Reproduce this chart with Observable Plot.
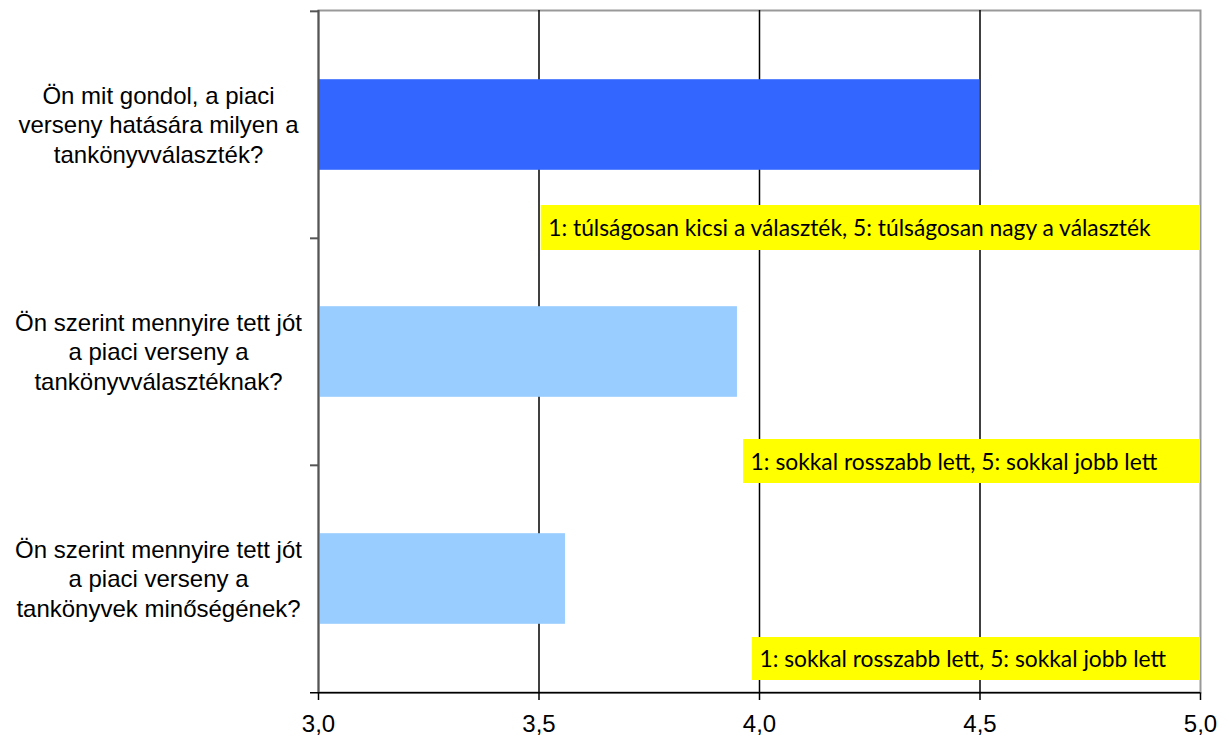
<!DOCTYPE html>
<html>
<head>
<meta charset="utf-8">
<script src="https://cdn.jsdelivr.net/npm/d3@7"></script>
<script src="https://cdn.jsdelivr.net/npm/@observablehq/plot@0.6"></script>
<style>
  html, body { margin: 0; padding: 0; background: #fff; }
</style>
</head>
<body>
<div id="chart"></div>
<script>
// ---- data ----
const questions = [
  "Ön mit gondol, a piaci\nverseny hatására milyen a\ntankönyvválaszték?",
  "Ön szerint mennyire tett jót\na piaci verseny a\ntankönyvválasztéknak?",
  "Ön szerint mennyire tett jót\na piaci verseny a\ntankönyvek minőségének?"
];
const values = [4.5, 3.95, 3.56];
const xTicks = [3.0, 3.5, 4.0, 4.5, 5.0];
const noteTexts = [
  "1: túlságosan kicsi a választék, 5: túlságosan nagy a választék",
  "1: sokkal rosszabb lett, 5: sokkal jobb lett",
  "1: sokkal rosszabb lett, 5: sokkal jobb lett"
];
const noteStarts = [3.505, 3.964, 3.984];

// ---- layout ----
const W = 1229, H = 742;
const mTop = 10, mBottom = 50, mLeft = 318, mRight = 29;
const bw = (H - mTop - mBottom) / questions.length;
const barInset = bw * 0.3;
// note box placement relative to its question band (pixels)
const noteLayout = [
  {insetTop: 194, insetBottom: -12},
  {insetTop: 201, insetBottom: -18},
  {insetTop: 172, insetBottom: 12}
];
const barColors = ["#3366FF", "#99CCFF", "#99CCFF"];

const bars = questions.map((q, i) => ({q, v: values[i], c: barColors[i]}));
const notes = questions.map((q, i) => ({q, text: noteTexts[i], start: noteStarts[i], ...noteLayout[i]}));
const lastQ = questions[questions.length - 1];

const noteMarks = notes.flatMap(n => {
  const centerOffset = (n.insetTop - n.insetBottom) / 2;
  return [
    Plot.barX([n], {x1: "start", x2: 5, y: "q", fill: "#FFFF00", insetTop: n.insetTop, insetBottom: n.insetBottom}),
    Plot.text([n], {x: "start", y: "q", text: "text", textAnchor: "start", dx: 7, dy: centerOffset + 1,
      fontFamily: "Lato, 'Open Sans', sans-serif", fontSize: "22.8px", fill: "#000"})
  ];
});

const fmt = d => d3.format(".1f")(d).replace(".", ",");

const chart = Plot.plot({
  width: W,
  height: H,
  marginTop: mTop,
  marginBottom: mBottom,
  marginLeft: mLeft,
  marginRight: mRight,
  style: {fontFamily: "'Liberation Sans', Arial, sans-serif", color: "#000", background: "#fff", overflow: "visible"},
  x: {domain: [3, 5], ticks: xTicks, tickFormat: fmt, label: null, axis: null},
  y: {domain: questions, padding: 0, axis: null},
  marks: [
    Plot.frame({stroke: "#999", strokeWidth: 2}),
    Plot.ruleX(xTicks.filter(t => t > 3 && t < 5), {stroke: "#000", strokeWidth: 1.5}),
    Plot.barX(bars, {x1: 3, x2: "v", y: "q", fill: "c", insetTop: barInset, insetBottom: barInset}),
    ...noteMarks,
    Plot.ruleX([3], {stroke: "#555", strokeWidth: 2}),
    // category boundary ticks on the left
    Plot.ruleY(questions, {y: d => d, x1: 3, x2: 3, insetLeft: -8, dy: -bw / 2, stroke: "#555", strokeWidth: 2}),
    // bottom axis line
    Plot.ruleY([lastQ], {y: d => d, x1: 3, x2: 5, insetLeft: -8, dy: bw / 2, stroke: "#000", strokeWidth: 1.5}),
    // x ticks below the axis line
    Plot.tickX(xTicks, {x: d => d, y: () => lastQ, insetTop: bw, insetBottom: -8, stroke: "#000", strokeWidth: 1.5}),
    // x tick labels
    Plot.text(xTicks, {x: d => d, text: fmt, frameAnchor: "bottom", dy: 39, fontSize: "24px", fill: "#000"}),
    // category labels
    Plot.text(questions, {y: d => d, frameAnchor: "left", dx: -160, dy: -1, textAnchor: "middle", lineHeight: 1.22, fontSize: "24px", fill: "#000"})
  ]
});
document.getElementById("chart").appendChild(chart);
</script>
</body>
</html>
